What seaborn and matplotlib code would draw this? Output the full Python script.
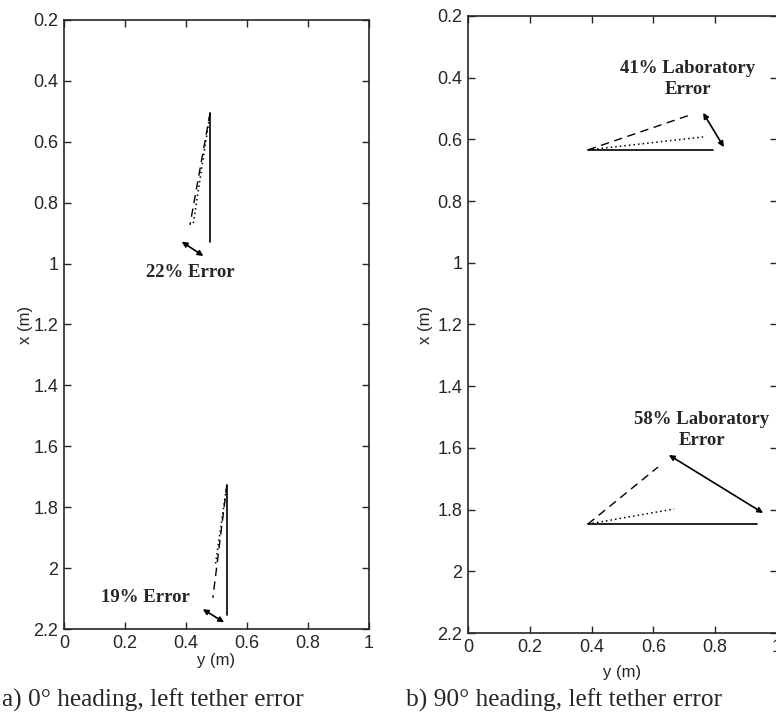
import numpy as np
import pandas as pd
import matplotlib
matplotlib.use("Agg")
import matplotlib.pyplot as plt
import seaborn as sns

# --- data (y = lateral, x = longitudinal, metres) ---
# a) 0 deg heading
a_solid_y = [[0.479, 0.479], [0.534, 0.534]]
a_solid_x = [[0.505, 0.929], [1.727, 2.154]]
a_dash_y = [[0.479, 0.413], [0.534, 0.488]]
a_dash_x = [[0.505, 0.873], [1.727, 2.098]]
a_dot_y = [[0.479, 0.424], [0.534, 0.497]]
a_dot_x = [[0.505, 0.868], [1.727, 1.985]]
a_arrow_y = [[0.386, 0.457], [0.455, 0.525]]
a_arrow_x = [[0.928, 0.975], [2.135, 2.178]]
a_labels = ["22% Error", "19% Error"]
a_label_y = [0.413, 0.266]
a_label_x = [1.03, 2.095]

# b) 90 deg heading
b_solid_y = [[0.388, 0.793], [0.388, 0.935]]
b_solid_x = [[0.634, 0.634], [1.847, 1.847]]
b_dash_y = [[0.388, 0.718], [0.388, 0.615]]
b_dash_x = [[0.634, 0.521], [1.847, 1.662]]
b_dot_y = [[0.388, 0.761], [0.388, 0.667]]
b_dot_x = [[0.634, 0.592], [1.847, 1.798]]
b_arrow_y = [[0.761, 0.828], [0.650, 0.955]]
b_arrow_x = [[0.514, 0.625], [1.623, 1.811]]
b_labels = ["41% Laboratory\nError", "58% Laboratory\nError"]
b_label_y = [0.712, 0.757]
b_label_x = [0.404, 1.542]

x_ticks = [0, 0.2, 0.4, 0.6, 0.8, 1]
y_ticks = [0.2, 0.4, 0.6, 0.8, 1, 1.2, 1.4, 1.6, 1.8, 2, 2.2]
captions = ["a) 0\u00b0 heading, left tether error", "b) 90\u00b0 heading, left tether error"]

sns.set_style("ticks")
plt.rcParams["font.family"] = ["Liberation Sans", "DejaVu Sans"]
plt.rcParams["xtick.direction"] = "in"
plt.rcParams["ytick.direction"] = "in"

fig = plt.figure(figsize=(7.76, 7.18), dpi=100)
ax_a = fig.add_axes([64 / 776, 1 - 629 / 718, 305 / 776, 609 / 718])
ax_b = fig.add_axes([468 / 776, 1 - 633 / 718, 309 / 776, 617 / 718])

panels = [
    (ax_a, a_solid_y, a_solid_x, a_dash_y, a_dash_x, a_dot_y, a_dot_x,
     a_arrow_y, a_arrow_x, a_labels, a_label_y, a_label_x),
    (ax_b, b_solid_y, b_solid_x, b_dash_y, b_dash_x, b_dot_y, b_dot_x,
     b_arrow_y, b_arrow_x, b_labels, b_label_y, b_label_x),
]
ylabel_pos = [(-0.102, 0.5), (-0.113, 0.5)]
xlabel_pos = [(0.5, -0.039), (0.5, -0.052)]

for k, (ax, sy, sx, dy, dx, oy, ox, ay, axx, labs, ly, lx) in enumerate(panels):
    for i in range(len(sy)):
        sns.lineplot(x=sy[i], y=sx[i], ax=ax, color="black", lw=1.2,
                     sort=False, estimator=None)
        sns.lineplot(x=dy[i], y=dx[i], ax=ax, color="black", lw=1.0,
                     sort=False, estimator=None, linestyle=(0, (6, 4)))
        sns.lineplot(x=oy[i], y=ox[i], ax=ax, color="black", lw=1.1,
                     sort=False, estimator=None, linestyle=(0, (1, 2)))
        ax.annotate("", xy=(ay[i][1], axx[i][1]), xytext=(ay[i][0], axx[i][0]),
                    arrowprops=dict(arrowstyle="<|-|>", color="black", lw=1.2,
                                    mutation_scale=8, shrinkA=0, shrinkB=0))
        ax.text(ly[i], lx[i], labs[i], ha="center", va="center",
                family="Liberation Serif", fontweight="bold", fontsize=13.5,
                linespacing=1.25)
    ax.set_xlim(0, 1)
    ax.set_ylim(2.2, 0.2)
    ax.set_xticks(x_ticks)
    ax.set_xticklabels([f"{t:g}" for t in x_ticks])
    ax.set_yticks(y_ticks)
    ax.set_yticklabels([f"{t:g}" for t in y_ticks])
    ax.tick_params(axis="both", which="both", labelsize=13, length=5,
                   width=1, top=True, right=True, pad=4)
    ax.set_xlabel("y (m)", fontsize=12)
    ax.set_ylabel("x (m)", fontsize=12)
    ax.yaxis.set_label_coords(*ylabel_pos[k])
    ax.xaxis.set_label_coords(*xlabel_pos[k])
    for sp in ax.spines.values():
        sp.set_linewidth(1.2)
        sp.set_visible(True)

fig.text(2 / 776, 1 - 700 / 718, captions[0], family="Liberation Serif",
         fontsize=18.3, va="center", ha="left")
fig.text(406 / 776, 1 - 700 / 718, captions[1], family="Liberation Serif",
         fontsize=18.3, va="center", ha="left")

fig.savefig("out.png", dpi=100)
